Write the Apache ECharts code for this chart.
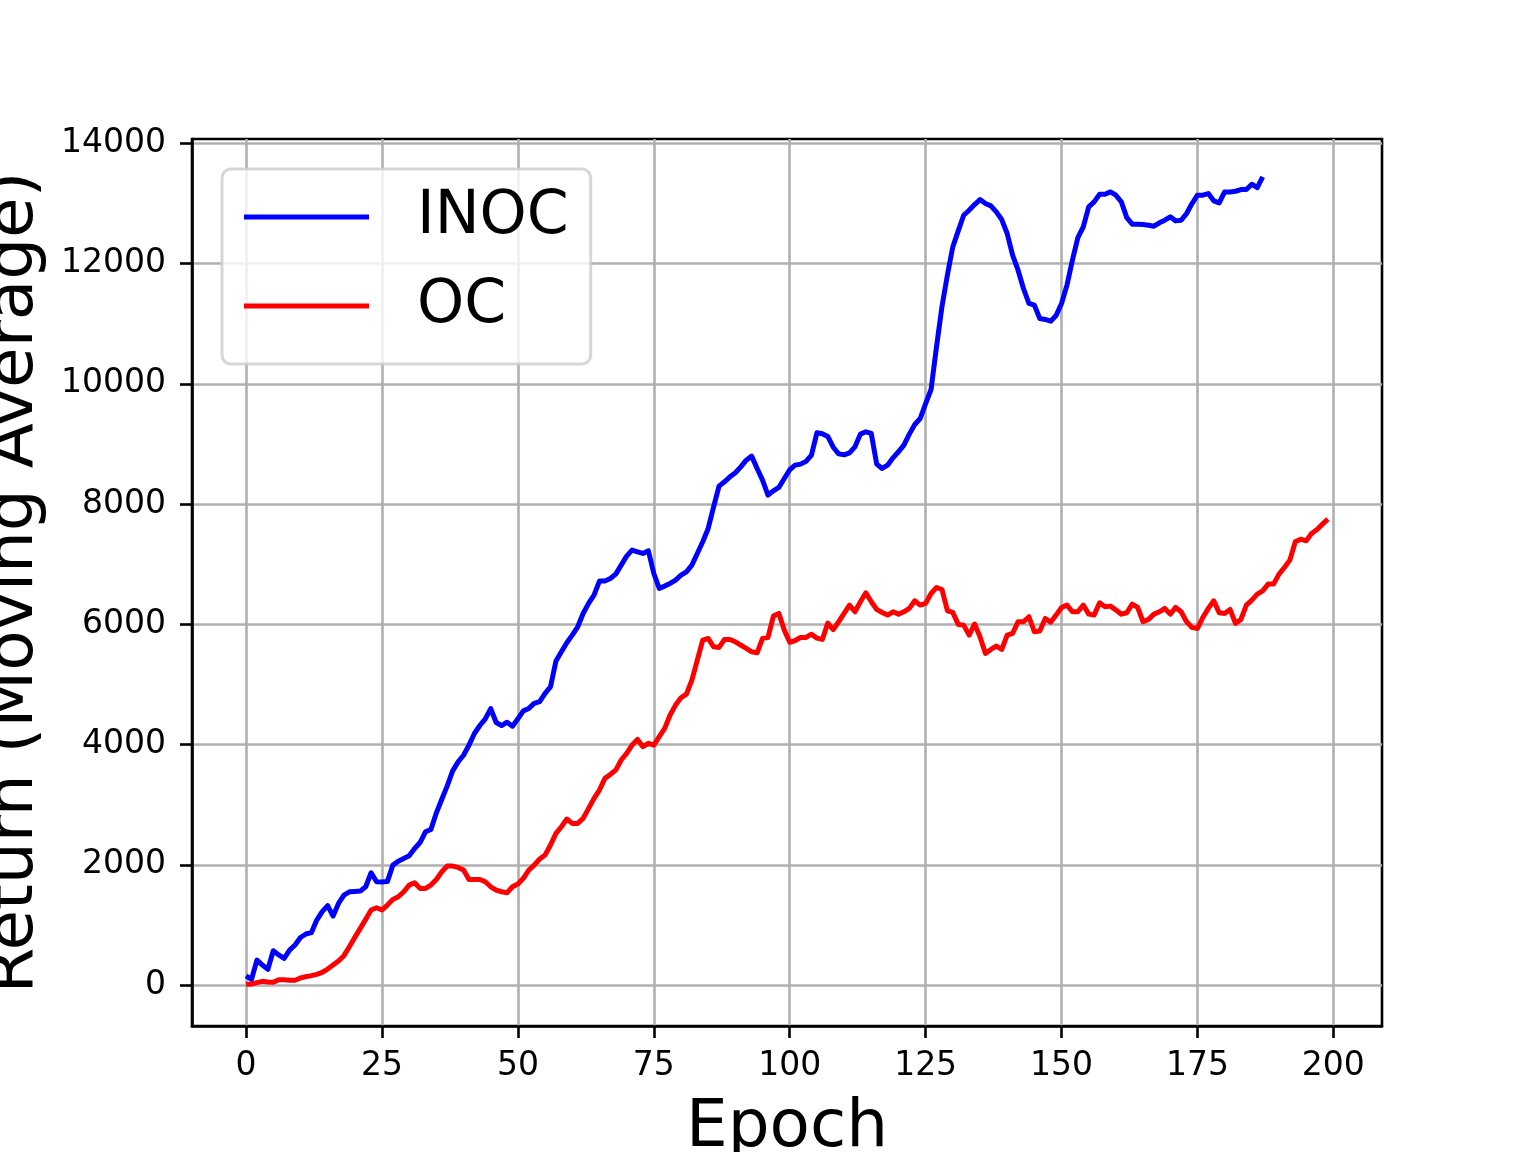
<!DOCTYPE html>
<html>
<head>
<meta charset="utf-8">
<script src="https://cdn.jsdelivr.net/npm/echarts@6/dist/echarts.min.js"></script>
<style>
html,body{margin:0;padding:0;background:#fff;}
#chart{width:1536px;height:1152px;}
</style>
</head>
<body>
<div id="chart"></div>
<script>
const seriesNames = ['INOC', 'OC'];
const xTicks = [0, 25, 50, 75, 100, 125, 150, 175, 200];
const yTicks = [0, 2000, 4000, 6000, 8000, 10000, 12000, 14000];

const inocValues = [
  150, 94, 415, 332, 260, 570, 500, 443, 580, 665,
  790, 848, 870, 1080, 1220, 1320, 1147, 1357, 1496, 1550,
  1555, 1562, 1634, 1867, 1717, 1712, 1723, 1994, 2060, 2105,
  2150, 2270, 2370, 2548, 2587, 2864, 3090, 3313, 3562, 3712,
  3822, 3990, 4183, 4316, 4427, 4598, 4366, 4316, 4371, 4305,
  4430, 4560, 4600, 4684, 4712, 4850, 4961, 5388, 5543, 5692,
  5820, 5958, 6180, 6347, 6485, 6718, 6718, 6762, 6834, 6984,
  7134, 7234, 7206, 7178, 7223, 6845, 6596, 6635, 6679, 6735,
  6818, 6873, 6984, 7178, 7372, 7594, 7954, 8298, 8370, 8453,
  8520, 8619, 8730, 8797, 8592, 8398, 8148, 8220, 8276, 8425,
  8570, 8647, 8664, 8710, 8813, 9185, 9170, 9125, 8945, 8835,
  8819, 8852, 8952, 9163, 9202, 9174, 8664, 8592, 8647, 8769,
  8869, 8980, 9163, 9323, 9423, 9672, 9905, 10615, 11280, 11807,
  12278, 12544, 12804, 12887, 12981, 13064, 12998, 12959, 12859, 12732,
  12500, 12139, 11890, 11585, 11336, 11308, 11087, 11070, 11042, 11135,
  11336, 11641, 12056, 12430, 12610, 12943, 13026, 13153, 13153, 13192,
  13137, 13026, 12765, 12655, 12655, 12649, 12638, 12621, 12677, 12721,
  12777, 12710, 12721, 12832, 12998, 13137, 13137, 13164, 13043, 13009,
  13192, 13192, 13203, 13231, 13231, 13320, 13264, 13442
];

const ocValues = [
  11, 17, 39, 61, 50, 44, 89, 89, 78, 78,
  116, 139, 155, 177, 210, 266, 332, 399, 488, 637,
  792, 942, 1091, 1247, 1285, 1247, 1330, 1424, 1468, 1551,
  1662, 1700, 1607, 1607, 1662, 1756, 1883, 1978, 1978, 1956,
  1911, 1756, 1756, 1756, 1717, 1634, 1579, 1551, 1535, 1634,
  1680, 1774, 1912, 1995, 2095, 2162, 2328, 2522, 2633, 2760,
  2688, 2688, 2771, 2938, 3104, 3243, 3437, 3503, 3575, 3742,
  3852, 3991, 4085, 3963, 4019, 3991, 4130, 4268, 4490, 4656,
  4778, 4839, 5072, 5404, 5737, 5765, 5626, 5615, 5748, 5748,
  5709, 5654, 5599, 5543, 5526, 5765, 5781, 6136, 6180, 5903,
  5700, 5730, 5781, 5781, 5835, 5770, 5748, 6020, 5910, 6042,
  6180, 6319, 6208, 6374, 6524, 6374, 6247, 6197, 6153, 6208,
  6169, 6208, 6264, 6391, 6319, 6347, 6513, 6612, 6579, 6225,
  6197, 5998, 5986, 5820, 6003, 5792, 5515, 5582, 5637, 5582,
  5820, 5848, 6042, 6042, 6125, 5876, 5887, 6097, 6035, 6153,
  6280, 6319, 6208, 6208, 6319, 6169, 6153, 6358, 6291, 6302,
  6236, 6169, 6191, 6336, 6280, 6042, 6081, 6169, 6208, 6264,
  6169, 6280, 6208, 6042, 5948, 5931, 6114, 6264, 6391, 6191,
  6180, 6247, 6014, 6081, 6319, 6402, 6502, 6557, 6668, 6668,
  6834, 6945, 7067, 7372, 7416, 7389, 7511, 7577, 7666, 7749
];

const FONT = 'DejaVu Sans';
const toPairs = vals => vals.map((v, i) => [i, v]);
const plain = v => String(v);

const chart = echarts.init(document.getElementById('chart'), null, {renderer: 'canvas'});
chart.setOption({
  animation: false,
  backgroundColor: '#ffffff',
  grid: {
    left: 192, right: 154, top: 139, bottom: 126,
    containLabel: false,
    outerBoundsMode: 'none',
    show: true, borderColor: '#000000', borderWidth: 2.6,
    backgroundColor: 'transparent'
  },
  legend: {
    show: true,
    data: seriesNames,
    orient: 'vertical',
    left: 222, top: 169,
    icon: 'rect',
    itemWidth: 125, itemHeight: 5,
    itemGap: 29,
    padding: [18, 22, 28, 22],
    backgroundColor: 'rgba(255,255,255,0.8)',
    borderColor: 'rgba(204,204,204,0.8)',
    borderWidth: 3,
    borderRadius: 9,
    textStyle: {
      fontFamily: FONT, fontSize: 60, color: '#000', lineHeight: 60,
      padding: [0, 0, 0, 43]
    }
  },
  xAxis: {
    type: 'value',
    min: -9.95, max: 208.95,
    name: 'Epoch',
    nameLocation: 'middle',
    nameGap: 70,
    nameMoveOverlap: false,
    nameTextStyle: {fontFamily: FONT, fontSize: 66, color: '#000'},
    axisLine: {show: true, onZero: false, lineStyle: {color: '#000', width: 2.6}},
    axisTick: {show: true, length: 12, customValues: xTicks, lineStyle: {color: '#000', width: 2.6}},
    axisLabel: {show: true, customValues: xTicks, formatter: plain, margin: 24, fontFamily: FONT, fontSize: 33, color: '#000'},
    splitLine: {show: true, lineStyle: {color: '#b0b0b0', width: 2.6}}
  },
  yAxis: {
    type: 'value',
    min: -682, max: 14072,
    name: 'Return (Moving Average)',
    nameLocation: 'middle',
    nameRotate: 90,
    nameGap: 144,
    nameMoveOverlap: false,
    nameTextStyle: {fontFamily: FONT, fontSize: 66, color: '#000'},
    axisLine: {show: true, onZero: false, lineStyle: {color: '#000', width: 2.6}},
    axisTick: {show: true, length: 12, customValues: yTicks, lineStyle: {color: '#000', width: 2.6}},
    axisLabel: {show: true, customValues: yTicks, formatter: plain, margin: 26, fontFamily: FONT, fontSize: 33, color: '#000'},
    splitLine: {show: true, lineStyle: {color: '#b0b0b0', width: 2.6}}
  },
  series: [
    {
      name: seriesNames[0], type: 'line', data: toPairs(inocValues),
      showSymbol: false, symbol: 'none', color: '#0000ff',
      lineStyle: {color: '#0000ff', width: 5, join: 'round', cap: 'butt'}
    },
    {
      name: seriesNames[1], type: 'line', data: toPairs(ocValues),
      showSymbol: false, symbol: 'none', color: '#ff0000',
      lineStyle: {color: '#ff0000', width: 5, join: 'round', cap: 'butt'}
    }
  ]
});
</script>
</body>
</html>
